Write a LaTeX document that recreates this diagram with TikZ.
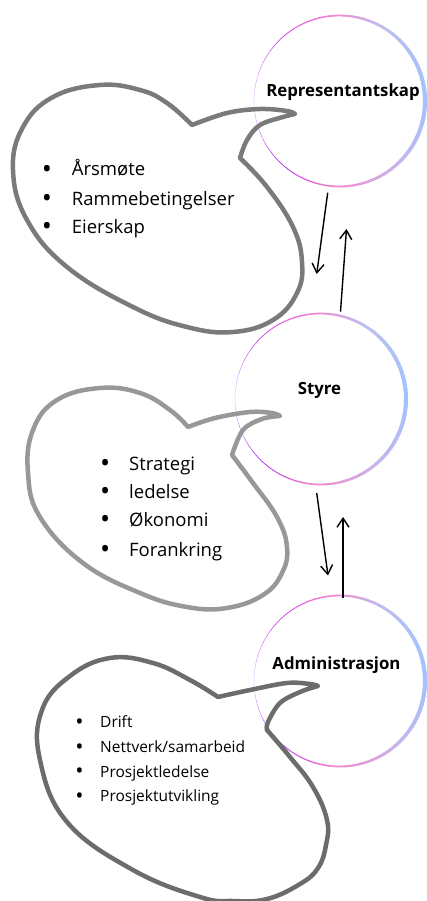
\documentclass[tikz,border=0pt]{standalone}
\usepackage{fontspec}
\setmainfont{Open Sans}
\usetikzlibrary{arrows.meta}
\definecolor{cB}{RGB}{160,195,255}
\definecolor{cLv}{RGB}{200,180,235}
\definecolor{cP}{RGB}{245,135,205}
\definecolor{cV}{RGB}{180,45,245}
\definecolor{cW}{RGB}{232,210,255}
\definecolor{cM}{RGB}{205,70,240}
\definecolor{cL}{RGB}{190,190,240}
\definecolor{gA}{RGB}{122,122,122}
\definecolor{gB}{RGB}{152,152,152}
\definecolor{gC}{RGB}{108,108,108}
\newcommand\gradring[2]{%
  \foreach \a/\b/\ca/\cb in {0/50/cB/cLv,50/95/cLv/cP,95/135/cP/cV,135/180/cV/cW,180/225/cW/cM,225/265/cM/cP,265/300/cP/cL,300/360/cL/cB}{%
    \foreach \i in {0,...,9}{%
      \pgfmathsetmacro\sa{\a+(\b-\a)*\i/10}%
      \pgfmathsetmacro\ea{\a+(\b-\a)*(\i+1)/10}%
      \pgfmathsetmacro\pc{100-(\i+0.5)*10}%
      \pgfmathsetmacro\w{0.5+3.6*((1+cos(\sa+(\b-\a)/20))/2)^1.4}%
      \draw[line width=\w pt,line cap=round,color=\ca!\pc!\cb] (#1) ++(\sa:#2) arc[start angle=\sa,end angle=\ea,radius=#2];
    }%
  }%
}
\tikzset{
  ringnode/.style={circle,minimum size=172pt,inner sep=0pt},
  title/.style={font=\fontsize{16.8}{19}\selectfont\bfseries,anchor=base,inner sep=0pt},
  bubble/.style={line width=4.5pt,line join=round,line cap=round},
  bigitem/.style={font=\fontsize{18.5}{23}\selectfont,anchor=base west,inner sep=0pt},
  smallitem/.style={font=\fontsize{15.5}{19}\selectfont,anchor=base west,inner sep=0pt},
  flow/.style={line width=1.4pt,-{Straight Barb[length=9pt,width=12pt,line width=1.4pt]}}
}
\newcommand\bigdot{\makebox[0pt]{\raisebox{-2.2pt}{\fontsize{27}{27}\selectfont •}}}
\newcommand\smalldot{\makebox[0pt]{\raisebox{-1.6pt}{\fontsize{22}{22}\selectfont •}}}
\begin{document}
\begin{tikzpicture}[x=1pt,y=-1pt]
\useasboundingbox (0,0) rectangle (427,901);
% circles
\node[ringnode] (rep) at (339.5,101) {};
\node[ringnode] (sty) at (320.5,399) {};
\node[ringnode] (adm) at (339.5,681) {};
\gradring{rep.center}{85.5}
\gradring{sty.center}{85.5}
\gradring{adm.center}{85.5}
\node[title] (repT) at (343,96.7) {Representantskap};
\node[title] (styT) at (319.5,394) {Styre};
\node[title] (admT) at (336.5,669.3) {Administrasjon};
% bubbles
\draw[bubble,gA] plot[smooth,tension=0.6] coordinates {(192,125) (227,113) (260,109) (287,111) (295,114)}
  -- plot[smooth,tension=0.6] coordinates {(295,114) (283,117) (260,125) (247,140) (240,158)}
  -- plot[smooth,tension=0.7] coordinates {(240,158) (267,187) (293,227) (302,262) (297,293) (273,320) (233,332) (187,327) (133,307) (67,267) (27,220) (13,170) (23,127) (53,97) (100,85) (140,90) (167,103) (192,125)} -- cycle;
\draw[bubble,gB] plot[smooth,tension=0.6] coordinates {(188,427) (215,418) (250,412) (272,413) (280,416)}
  -- plot[smooth,tension=0.6] coordinates {(280,416) (262,419) (243,430) (232,455)}
  -- plot[smooth,tension=0.7] coordinates {(232,455) (253,483) (277,517) (287,547) (282,573) (263,595) (227,608) (187,607) (140,593) (83,563) (40,517) (28,473) (33,430) (57,400) (100,388) (140,393) (170,410) (188,427)} -- cycle;
\draw[bubble,gC] plot[smooth,tension=0.6] coordinates {(218,697) (250,690) (287,683) (310,684) (318,686)}
  -- plot[smooth,tension=0.6] coordinates {(318,686) (300,692) (280,703) (268,722) (267,730)}
  -- plot[smooth,tension=0.7] coordinates {(267,730) (290,757) (313,787) (327,820) (326,845) (318,868) (300,884) (267,899) (233,901) (200,897) (133,870) (67,822) (40,760) (42,710) (70,676) (110,658) (153,663) (190,680) (218,697)} -- cycle;
% lists
\node[bigitem] (l1a) at (46.7,176) {\bigdot\hspace{25pt}Årsmøte};
\node[bigitem] (l1b) at (46.7,205.5) {\bigdot\hspace{25pt}Rammebetingelser};
\node[bigitem] (l1c) at (46.7,233.5) {\bigdot\hspace{25pt}Eierskap};
\node[bigitem] (l2a) at (105,470) {\bigdot\hspace{24pt}Strategi};
\node[bigitem] (l2b) at (105,498.3) {\bigdot\hspace{24pt}ledelse};
\node[bigitem] (l2c) at (105,526.7) {\bigdot\hspace{24pt}Økonomi};
\node[bigitem] (l2d) at (105,556) {\bigdot\hspace{24pt}Forankring};
\node[smallitem] (l3a) at (79.3,727.7) {\smalldot\hspace{20.7pt}Drift};
\node[smallitem] (l3b) at (79.3,752.7) {\smalldot\hspace{20.7pt}Nettverk/samarbeid};
\node[smallitem] (l3c) at (79.3,777.3) {\smalldot\hspace{20.7pt}Prosjektledelse};
\node[smallitem] (l3d) at (79.3,801.7) {\smalldot\hspace{20.7pt}Prosjektutvikling};
% arrows
\coordinate (a1s) at (327.7,192.7);
\coordinate (a1e) at (316.7,274);
\coordinate (a2s) at (340.5,311.7);
\coordinate (a2e) at (346.5,229);
\coordinate (a3s) at (316.7,493);
\coordinate (a3e) at (328,575.5);
\coordinate (a4s) at (343,598);
\coordinate (a4e) at (343,517);
\draw[flow] (a1s) -- (a1e);
\draw[flow] (a2s) -- (a2e);
\draw[flow] (a3s) -- (a3e);
\draw[flow] (a4s) -- (a4e);
\end{tikzpicture}
\end{document}
